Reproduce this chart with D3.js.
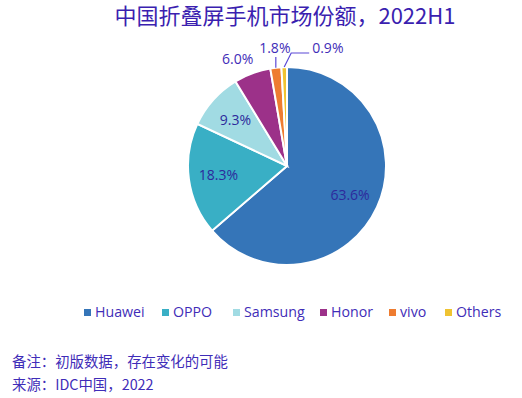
<!DOCTYPE html>
<html>
<head>
<meta charset="utf-8">
<script src="https://cdn.jsdelivr.net/npm/d3@7"></script>
<style>
  html, body { margin: 0; padding: 0; background: #fff; }
  svg text { font-family: "Open Sans", "Noto Sans CJK SC", sans-serif; }
</style>
</head>
<body>
<script>
const BRANDS = ["Huawei", "OPPO", "Samsung", "Honor", "vivo", "Others"]
const SHARES = [63.6, 18.3, 9.3, 6.0, 1.8, 0.9]
const COLORS = ["#3575b8", "#39afc5", "#a1dbe3", "#9c3189", "#ee7c30", "#efc332"]
const TITLE = "中国折叠屏手机市场份额，2022H1"
const NOTES = ["备注：初版数据，存在变化的可能", "来源：IDC中国，2022"]

const width = 522, height = 398
const cx = 287, cy = 166, radius = 99
const textColor = "#3f2db8"

const svg = d3.select("body").append("svg")
  .attr("width", width)
  .attr("height", height)

svg.append("text")
  .attr("x", 285).attr("y", 24)
  .attr("text-anchor", "middle")
  .attr("font-size", 22)
  .attr("fill", "#3b1fb0")
  .style("font-family", "'Noto Sans CJK SC', sans-serif")
  .text(TITLE)

const data = BRANDS.map((b, i) => ({ brand: b, value: SHARES[i], color: COLORS[i] }))
const pie = d3.pie().value(d => d.value).sort(null)
const arcs = pie(data)
const arc = d3.arc().innerRadius(0).outerRadius(radius)
const labelArc = d3.arc().innerRadius(radius * 0.7).outerRadius(radius * 0.7)

const g = svg.append("g").attr("transform", `translate(${cx},${cy})`)

g.selectAll("path.slice").data(arcs).join("path")
  .attr("class", "slice")
  .attr("d", arc)
  .attr("fill", d => d.data.color)
  .attr("stroke", "#fff")
  .attr("stroke-width", 2)

// inside labels for the big slices
g.selectAll("text.inlabel").data(arcs.filter(d => d.data.value > 8)).join("text")
  .attr("class", "inlabel")
  .attr("transform", d => `translate(${labelArc.centroid(d)})`)
  .attr("text-anchor", "middle")
  .attr("dy", "0.35em")
  .attr("font-size", 14)
  .attr("fill", "#2d2a9c")
  .text(d => d.data.value.toFixed(1) + "%")

// outside labels for the small ones
const pt = (a, r) => [r * Math.sin(a), -r * Math.cos(a)]
const mid = d => (d.startAngle + d.endAngle) / 2

const honor = arcs[3], vivo = arcs[4], others = arcs[5]

const hp = pt(mid(honor), radius * 1.19)
g.append("text")
  .attr("x", hp[0] - 8).attr("y", hp[1] + 3)
  .attr("text-anchor", "middle").attr("dy", "0.35em")
  .attr("font-size", 14).attr("fill", textColor)
  .text(honor.data.value.toFixed(1) + "%")

const vp = pt(mid(vivo), radius)
g.append("path")
  .attr("d", d3.line()([[vp[0], vp[1]], [vp[0], -radius - 10]]))
  .attr("stroke", "#5b49d6").attr("stroke-width", 1.2).attr("fill", "none")
g.append("text")
  .attr("x", vp[0] - 1).attr("y", -radius - 18.5)
  .attr("text-anchor", "middle").attr("dy", "0.35em")
  .attr("font-size", 14).attr("fill", textColor)
  .text(vivo.data.value.toFixed(1) + "%")

const op = pt(mid(others), radius)
g.append("path")
  .attr("d", d3.line()([[op[0], op[1]], [op[0] + 7, -radius - 14], [op[0] + 25, -radius - 14]]))
  .attr("stroke", "#5b49d6").attr("stroke-width", 1.2).attr("fill", "none")
g.append("text")
  .attr("x", op[0] + 28).attr("y", -radius - 18.5)
  .attr("dy", "0.35em")
  .attr("font-size", 14).attr("fill", textColor)
  .text(others.data.value.toFixed(1) + "%")

// legend
const legendX = [84, 162, 233, 320, 389, 445]
const legend = svg.append("g")
legend.selectAll("rect").data(data).join("rect")
  .attr("x", (d, i) => legendX[i]).attr("y", 309)
  .attr("width", 7).attr("height", 7)
  .attr("fill", d => d.color)
legend.selectAll("text").data(data).join("text")
  .attr("x", (d, i) => legendX[i] + 11).attr("y", 312.5)
  .attr("dy", "0.35em")
  .attr("font-size", 14.2).attr("fill", textColor)
  .text(d => d.brand)

// notes
svg.selectAll("text.note").data(NOTES).join("text")
  .attr("class", "note")
  .attr("x", 12).attr("y", (d, i) => 362 + i * 23)
  .attr("dy", "0.35em")
  .attr("font-size", 14.4).attr("fill", textColor)
  .style("font-family", "'Noto Sans CJK SC', sans-serif")
  .text(d => d)
</script>
</body>
</html>
